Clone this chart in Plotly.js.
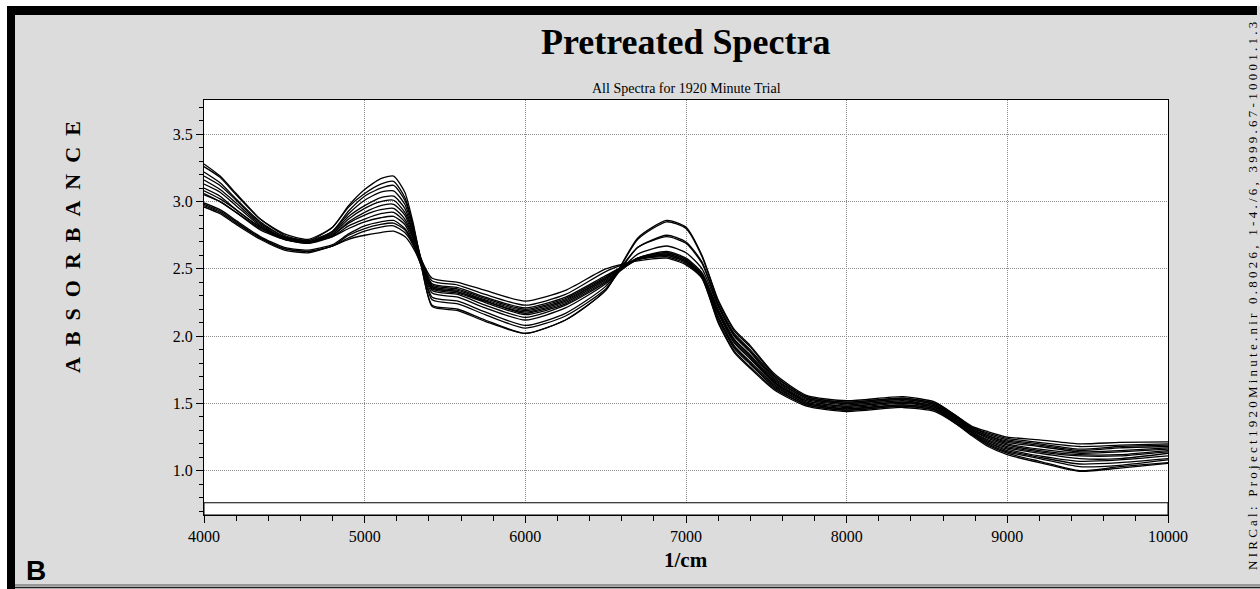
<!DOCTYPE html>
<html>
<head>
<meta charset="utf-8">
<script src="https://cdn.plot.ly/plotly-3.0.1.min.js"></script>
<style>
  html, body { margin: 0; padding: 0; background: #ffffff; }
  #chart { width: 1260px; height: 589px; }
</style>
</head>
<body>
<div id="chart"></div>
<script>
// ---- data ----
const wavenumber = [4000, 4100, 4200, 4350, 4500, 4650, 4800, 4900, 5000, 5100, 5180, 5250, 5300, 5350, 5420, 5580, 5750, 6000, 6250, 6500, 6700, 6880, 7000, 7100, 7200, 7300, 7400, 7550, 7750, 8000, 8350, 8550, 8680, 8780, 8880, 9000, 9200, 9450, 9700, 10000];

const spectrum01 = [3.28, 3.19, 3.06, 2.87, 2.75, 2.71, 2.81, 2.97, 3.09, 3.17, 3.19, 3.07, 2.85, 2.58, 2.43, 2.40, 2.34, 2.26, 2.34, 2.50, 2.56, 2.58, 2.53, 2.43, 2.10, 1.88, 1.76, 1.60, 1.48, 1.44, 1.47, 1.44, 1.35, 1.26, 1.18, 1.12, 1.06, 0.995, 1.02, 1.055];
const spectrum02 = [3.26, 3.18, 3.05, 2.87, 2.76, 2.72, 2.81, 2.96, 3.06, 3.13, 3.15, 3.03, 2.83, 2.58, 2.41, 2.38, 2.31, 2.23, 2.31, 2.48, 2.57, 2.60, 2.55, 2.43, 2.11, 1.89, 1.77, 1.61, 1.49, 1.45, 1.48, 1.45, 1.35, 1.27, 1.19, 1.13, 1.07, 1.00, 1.03, 1.06];
const spectrum03 = [3.22, 3.14, 3.02, 2.85, 2.74, 2.70, 2.78, 2.93, 3.04, 3.10, 3.12, 3.01, 2.82, 2.57, 2.39, 2.36, 2.29, 2.21, 2.29, 2.45, 2.57, 2.59, 2.54, 2.44, 2.13, 1.91, 1.79, 1.62, 1.49, 1.45, 1.48, 1.45, 1.36, 1.27, 1.20, 1.14, 1.09, 1.03, 1.04, 1.08];
const spectrum04 = [3.19, 3.12, 3.01, 2.84, 2.74, 2.71, 2.78, 2.91, 3.01, 3.07, 3.08, 2.98, 2.80, 2.57, 2.38, 2.35, 2.28, 2.20, 2.28, 2.44, 2.58, 2.61, 2.56, 2.44, 2.14, 1.92, 1.80, 1.63, 1.50, 1.46, 1.49, 1.46, 1.36, 1.28, 1.21, 1.15, 1.10, 1.05, 1.06, 1.09];
const spectrum05 = [3.16, 3.09, 2.99, 2.83, 2.73, 2.70, 2.77, 2.89, 2.97, 3.03, 3.04, 2.95, 2.78, 2.57, 2.37, 2.34, 2.27, 2.19, 2.27, 2.43, 2.57, 2.60, 2.55, 2.45, 2.15, 1.93, 1.81, 1.64, 1.50, 1.46, 1.49, 1.46, 1.37, 1.28, 1.21, 1.16, 1.11, 1.07, 1.08, 1.11];
const spectrum06 = [3.13, 3.07, 2.97, 2.82, 2.73, 2.70, 2.76, 2.87, 2.95, 3.00, 3.01, 2.92, 2.77, 2.56, 2.36, 2.33, 2.26, 2.18, 2.26, 2.43, 2.58, 2.62, 2.57, 2.45, 2.17, 1.95, 1.83, 1.65, 1.51, 1.47, 1.50, 1.47, 1.37, 1.29, 1.22, 1.17, 1.13, 1.09, 1.09, 1.13];
const spectrum07 = [3.10, 3.04, 2.94, 2.81, 2.72, 2.69, 2.75, 2.85, 2.92, 2.97, 2.98, 2.90, 2.75, 2.56, 2.36, 2.33, 2.26, 2.17, 2.25, 2.42, 2.57, 2.61, 2.56, 2.46, 2.18, 1.96, 1.84, 1.66, 1.52, 1.48, 1.51, 1.47, 1.38, 1.29, 1.23, 1.18, 1.14, 1.11, 1.11, 1.14];
const spectrum08 = [3.08, 3.02, 2.94, 2.81, 2.73, 2.70, 2.75, 2.84, 2.90, 2.94, 2.95, 2.87, 2.74, 2.56, 2.35, 2.32, 2.25, 2.16, 2.24, 2.41, 2.58, 2.62, 2.57, 2.46, 2.19, 1.97, 1.85, 1.66, 1.52, 1.48, 1.51, 1.48, 1.38, 1.30, 1.24, 1.19, 1.15, 1.12, 1.12, 1.15];
const spectrum09 = [3.06, 3.00, 2.92, 2.79, 2.72, 2.69, 2.74, 2.82, 2.87, 2.91, 2.92, 2.85, 2.73, 2.56, 2.34, 2.31, 2.23, 2.14, 2.23, 2.40, 2.58, 2.63, 2.58, 2.47, 2.20, 1.98, 1.86, 1.67, 1.53, 1.49, 1.52, 1.48, 1.39, 1.30, 1.25, 1.20, 1.16, 1.13, 1.14, 1.16];
const spectrum10 = [3.05, 3.00, 2.92, 2.80, 2.72, 2.70, 2.74, 2.80, 2.85, 2.88, 2.89, 2.83, 2.71, 2.55, 2.32, 2.29, 2.21, 2.12, 2.21, 2.39, 2.61, 2.67, 2.62, 2.50, 2.22, 2.00, 1.88, 1.68, 1.54, 1.50, 1.53, 1.49, 1.39, 1.31, 1.26, 1.21, 1.18, 1.14, 1.15, 1.17];
const spectrum11 = [2.99, 2.94, 2.86, 2.74, 2.66, 2.64, 2.68, 2.76, 2.82, 2.85, 2.86, 2.80, 2.70, 2.55, 2.29, 2.26, 2.18, 2.08, 2.17, 2.37, 2.66, 2.74, 2.69, 2.54, 2.23, 2.01, 1.89, 1.69, 1.54, 1.50, 1.53, 1.49, 1.40, 1.31, 1.26, 1.22, 1.19, 1.15, 1.17, 1.18];
const spectrum12 = [2.98, 2.93, 2.85, 2.73, 2.65, 2.63, 2.67, 2.75, 2.80, 2.83, 2.84, 2.79, 2.69, 2.54, 2.27, 2.24, 2.16, 2.06, 2.15, 2.35, 2.66, 2.75, 2.70, 2.55, 2.24, 2.02, 1.90, 1.70, 1.55, 1.51, 1.54, 1.50, 1.40, 1.32, 1.27, 1.23, 1.20, 1.16, 1.18, 1.19];
const spectrum13 = [2.97, 2.92, 2.84, 2.73, 2.65, 2.63, 2.67, 2.73, 2.78, 2.81, 2.82, 2.77, 2.68, 2.53, 2.23, 2.20, 2.12, 2.02, 2.12, 2.34, 2.72, 2.85, 2.80, 2.59, 2.26, 2.04, 1.92, 1.71, 1.55, 1.51, 1.54, 1.50, 1.41, 1.32, 1.28, 1.24, 1.21, 1.18, 1.19, 1.20];
const spectrum14 = [2.96, 2.91, 2.83, 2.72, 2.64, 2.62, 2.67, 2.72, 2.75, 2.77, 2.78, 2.74, 2.66, 2.53, 2.22, 2.19, 2.11, 2.02, 2.12, 2.34, 2.73, 2.86, 2.81, 2.60, 2.27, 2.05, 1.93, 1.72, 1.56, 1.52, 1.55, 1.51, 1.41, 1.33, 1.29, 1.25, 1.23, 1.20, 1.21, 1.215];

const xTickVals = [4000, 5000, 6000, 7000, 8000, 9000, 10000];
const xTickText = ['4000', '5000', '6000', '7000', '8000', '9000', '10000'];
const yTickVals = [1.0, 1.5, 2.0, 2.5, 3.0, 3.5];
const yTickText = ['1.0', '1.5', '2.0', '2.5', '3.0', '3.5'];

const chartTitle = 'Pretreated Spectra';
const chartSubtitle = 'All Spectra for 1920 Minute Trial';
const xLabel = '1/cm';
const yLabel = 'A\u00A0\u00A0B\u00A0\u00A0S\u00A0\u00A0O\u00A0\u00A0R\u00A0\u00A0B\u00A0\u00A0A\u00A0\u00A0N\u00A0\u00A0C\u00A0\u00A0E';
const sideNote = 'NIRCal: Project1920Minute.nir 0.8026, 1-4./6, 3999.67-10001.1.3';
const panelLetter = 'B';

// ---- layout helpers (page pixels -> paper coordinates) ----
const W = 1260, H = 589;
const PL = 204, PR = 1168, PT = 100, PB = 515;
const px = v => (v - PL) / (PR - PL);
const py = v => (PB - v) / (PB - PT);

const allSpectra = [spectrum01, spectrum02, spectrum03, spectrum04, spectrum05, spectrum06, spectrum07,
                    spectrum08, spectrum09, spectrum10, spectrum11, spectrum12, spectrum13, spectrum14];

const traces = allSpectra.map((s, i) => ({
  x: wavenumber, y: s, type: 'scatter', mode: 'lines',
  line: { color: '#000000', width: 1.3, shape: 'spline', smoothing: 0.6 },
  hoverinfo: 'skip', showlegend: false, name: 'spectrum ' + (i + 1)
}));

const spacedNote = sideNote.split('').join('\u00A0');
const serif = 'Liberation Serif';

const layout = {
  width: W, height: H,
  margin: { l: PL, r: W - PR, t: PT, b: H - PB, pad: 0 },
  paper_bgcolor: '#dcdcdc',
  plot_bgcolor: '#ffffff',
  showlegend: false,
  font: { family: serif, color: '#000' },
  xaxis: {
    range: [4000, 10000], tickmode: 'array', tickvals: xTickVals, ticktext: xTickText,
    ticks: 'outside', ticklen: 7, tickwidth: 1, tickcolor: '#000',
    showline: true, linecolor: '#000', linewidth: 1, mirror: true,
    showgrid: true, gridcolor: '#8a8a8a', gridwidth: 1, griddash: '1px,1px',
    zeroline: false,
    tickfont: { family: serif, size: 16, color: '#000' },
    minor: { dtick: 200, tick0: 4000, ticks: 'outside', ticklen: 5, tickcolor: '#000', showgrid: false }
  },
  yaxis: {
    range: [0.671, 3.755], tickmode: 'array', tickvals: yTickVals, ticktext: yTickText,
    ticks: 'outside', ticklen: 7, tickwidth: 1, tickcolor: '#000',
    showline: true, linecolor: '#000', linewidth: 1, mirror: true,
    showgrid: true, gridcolor: '#8a8a8a', gridwidth: 1, griddash: '1px,1px',
    zeroline: false,
    tickfont: { family: serif, size: 16, color: '#000' },
    minor: { dtick: 0.1, tick0: 0.8, ticks: 'outside', ticklen: 4, tickcolor: '#000', showgrid: false }
  },
  shapes: [
    { type: 'rect', xref: 'x', yref: 'y', x0: 4000, x1: 10000, y0: 0.671, y1: 0.762,
      fillcolor: '#ffffff', line: { color: '#000', width: 1 }, layer: 'above' },
    { type: 'rect', xref: 'paper', yref: 'paper', x0: px(0), x1: px(7), y0: py(0), y1: py(H),
      fillcolor: '#ffffff', line: { width: 0 }, layer: 'below' },
    { type: 'rect', xref: 'paper', yref: 'paper', x0: px(0), x1: px(W), y0: py(0), y1: py(6),
      fillcolor: '#ffffff', line: { width: 0 }, layer: 'below' },
    { type: 'rect', xref: 'paper', yref: 'paper', x0: px(7), x1: px(1257), y0: py(6), y1: py(15),
      fillcolor: '#000000', line: { width: 0 }, layer: 'below' },
    { type: 'rect', xref: 'paper', yref: 'paper', x0: px(7), x1: px(15), y0: py(6), y1: py(H),
      fillcolor: '#000000', line: { width: 0 }, layer: 'below' },
    { type: 'line', xref: 'paper', yref: 'paper', x0: px(15), x1: px(W), y0: py(585), y1: py(585),
      line: { color: '#555555', width: 1 } },
    { type: 'line', xref: 'paper', yref: 'paper', x0: px(15), x1: px(W), y0: py(587.5), y1: py(587.5),
      line: { color: '#222222', width: 1.5 } }
  ],
  annotations: [
    { text: '<b>' + chartTitle + '</b>', xref: 'paper', yref: 'paper', x: px(686), y: py(42),
      xanchor: 'center', yanchor: 'middle', showarrow: false,
      font: { family: serif, size: 36, color: '#000' } },
    { text: chartSubtitle, xref: 'paper', yref: 'paper', x: px(686), y: py(88),
      xanchor: 'center', yanchor: 'middle', showarrow: false,
      font: { family: serif, size: 14, color: '#000' } },
    { text: '<b>' + xLabel + '</b>', xref: 'paper', yref: 'paper', x: px(686), y: py(560),
      xanchor: 'center', yanchor: 'middle', showarrow: false,
      font: { family: serif, size: 21, color: '#000' } },
    { text: '<b>' + yLabel + '</b>', xref: 'paper', yref: 'paper', x: px(72), y: py(247),
      xanchor: 'center', yanchor: 'middle', showarrow: false, textangle: -90,
      font: { family: serif, size: 22, color: '#000' } },
    { text: spacedNote, xref: 'paper', yref: 'paper', x: px(1252), y: py(296),
      xanchor: 'center', yanchor: 'middle', showarrow: false, textangle: -90,
      font: { family: serif, size: 13, color: '#000' } },
    { text: '<b>' + panelLetter + '</b>', xref: 'paper', yref: 'paper', x: px(24), y: py(570),
      xanchor: 'left', yanchor: 'middle', showarrow: false,
      font: { family: 'Liberation Sans', size: 28, color: '#000' } }
  ]
};

Plotly.newPlot('chart', traces, layout, { staticPlot: true, displayModeBar: false });
</script>
</body>
</html>
